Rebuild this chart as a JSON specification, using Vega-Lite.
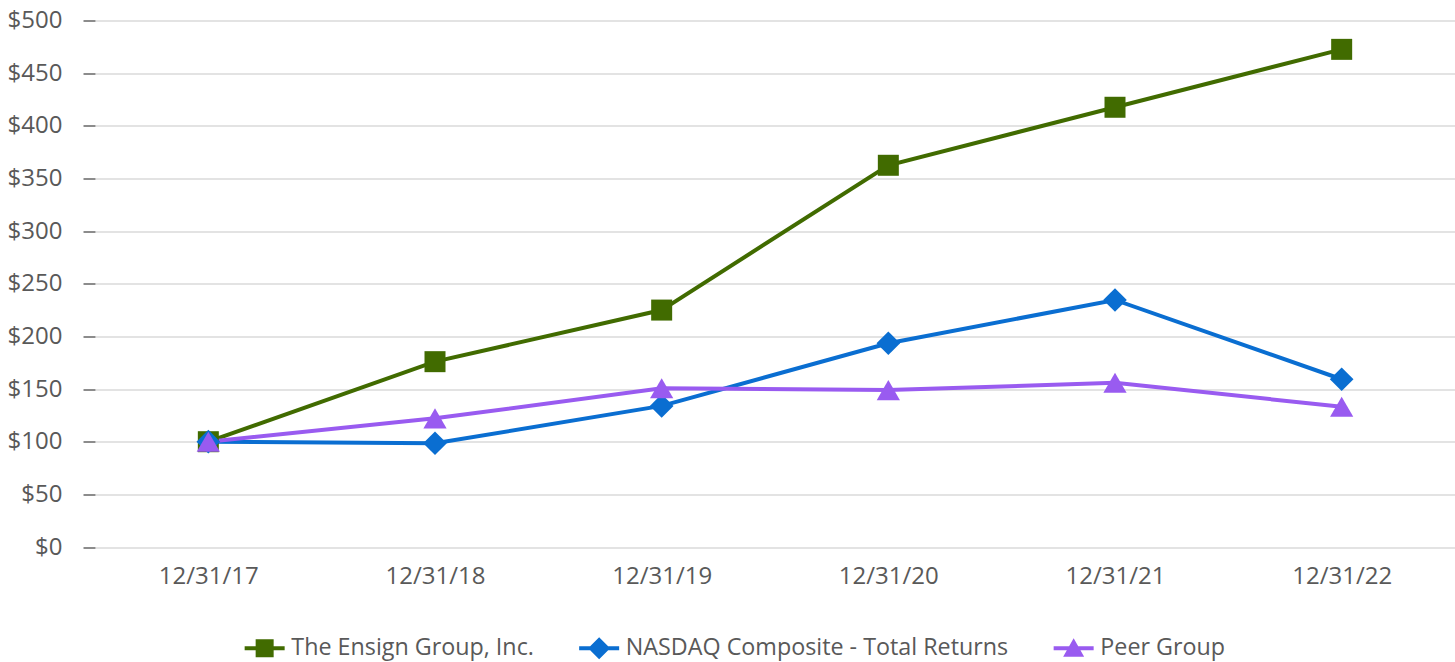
{
  "$schema": "https://vega.github.io/schema/vega-lite/v6.json",
  "width": 1360,
  "height": 526.5,
  "autosize": {"type": "none"},
  "padding": {"left": 95, "top": 20.5, "right": 0, "bottom": 115},
  "background": "white",
  "config": {"view": {"stroke": null}, "font": "Open Sans"},
  "data": {
    "values": [
      {"series": "The Ensign Group, Inc.", "date": "12/31/17", "value": 100},
      {"series": "The Ensign Group, Inc.", "date": "12/31/18", "value": 176},
      {"series": "The Ensign Group, Inc.", "date": "12/31/19", "value": 225},
      {"series": "The Ensign Group, Inc.", "date": "12/31/20", "value": 362.5},
      {"series": "The Ensign Group, Inc.", "date": "12/31/21", "value": 417.6},
      {"series": "The Ensign Group, Inc.", "date": "12/31/22", "value": 472.6},
      {"series": "NASDAQ Composite - Total Returns", "date": "12/31/17", "value": 100},
      {"series": "NASDAQ Composite - Total Returns", "date": "12/31/18", "value": 98.5},
      {"series": "NASDAQ Composite - Total Returns", "date": "12/31/19", "value": 134},
      {"series": "NASDAQ Composite - Total Returns", "date": "12/31/20", "value": 193.5},
      {"series": "NASDAQ Composite - Total Returns", "date": "12/31/21", "value": 234.6},
      {"series": "NASDAQ Composite - Total Returns", "date": "12/31/22", "value": 159.3},
      {"series": "Peer Group", "date": "12/31/17", "value": 100},
      {"series": "Peer Group", "date": "12/31/18", "value": 122.2},
      {"series": "Peer Group", "date": "12/31/19", "value": 150.7},
      {"series": "Peer Group", "date": "12/31/20", "value": 149},
      {"series": "Peer Group", "date": "12/31/21", "value": 156},
      {"series": "Peer Group", "date": "12/31/22", "value": 133.2}
    ]
  },
  "encoding": {
    "x": {
      "field": "date", "type": "ordinal", "sort": null,
      "scale": {"type": "point", "padding": 0.5},
      "axis": {"title": null, "labelAngle": 0, "labelFontSize": 24, "labelColor": "#595959", "ticks": false, "domain": false, "grid": false, "labelPadding": 17}
    },
    "y": {
      "field": "value", "type": "quantitative",
      "scale": {"domain": [0, 500], "nice": false},
      "axis": {"title": null, "values": [0, 50, 100, 150, 200, 250, 300, 350, 400, 450, 500], "labelExpr": "'$' + datum.value", "labelFontSize": 24, "labelColor": "#595959", "tickSize": 12, "tickColor": "#8c8c8c", "tickWidth": 2, "labelPadding": 21, "domain": false, "gridColor": "#e3e3e3", "gridWidth": 2}
    },
    "color": {
      "field": "series", "type": "nominal", "sort": null,
      "scale": {"domain": ["The Ensign Group, Inc.", "NASDAQ Composite - Total Returns", "Peer Group"], "range": ["#416B00", "#0A6ED1", "#995BF0"]},
      "legend": {
        "title": null, "orient": "none", "direction": "horizontal", "columns": 3,
        "legendX": 158, "legendY": 616,
        "labelFontSize": 23.3, "labelColor": "#595959", "labelLimit": 800, "symbolSize": 400,
        "labelOffset": 15, "columnPadding": 44.5, "symbolStrokeWidth": 0, "symbolOpacity": 1,
        "encode": {
          "symbols": {
            "update": {
              "shape": {"signal": "datum.value == 'The Ensign Group, Inc.' ? 'M-2,-0.2H2V0.2H-2Z M-0.9,-0.9H0.9V0.9H-0.9Z' : datum.value == 'Peer Group' ? 'M-2,-0.2H2V0.2H-2Z M0,-1L1.05,0.85H-1.05Z' : 'M-2,-0.2H2V0.2H-2Z M-1.1,0L0,-1.1L1.1,0L0,1.1Z'"},
              "fill": {"scale": "color", "field": "value"},
              "strokeWidth": {"value": 0},
              "opacity": {"value": 1}
            }
          }
        }
      }
    }
  },
  "layer": [
    {"mark": {"type": "line", "strokeWidth": 4}},
    {
      "transform": [{"filter": "datum.series == 'The Ensign Group, Inc.'"}],
      "mark": {"type": "point", "filled": true, "opacity": 1, "shape": "square", "size": 441}
    },
    {
      "transform": [{"filter": "datum.series == 'NASDAQ Composite - Total Returns'"}],
      "mark": {"type": "point", "filled": true, "opacity": 1, "shape": "diamond", "size": 560}
    },
    {
      "transform": [{"filter": "datum.series == 'Peer Group'"}],
      "mark": {"type": "point", "filled": true, "opacity": 1, "shape": "triangle-up", "size": 540}
    }
  ]
}
